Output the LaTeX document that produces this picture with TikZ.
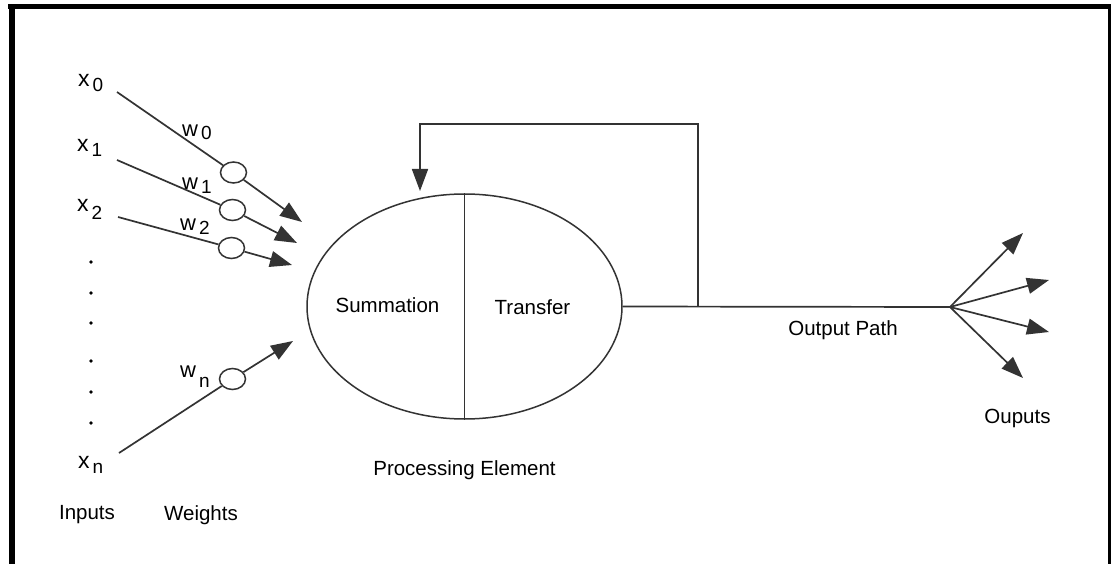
\documentclass[tikz,border=0pt]{standalone}
\usepackage{fontspec}
\setmainfont{Liberation Sans}
\usetikzlibrary{arrows.meta,shapes.geometric}
\newcommand\lowsub[2]{\hspace{3pt}\raisebox{-#1pt}{\fontsize{19}{22}\selectfont #2}}
\begin{document}
\begin{tikzpicture}[x=1pt,y=-1pt,
  wire/.style={draw=black!80,line width=1.7pt},
  arr/.style={wire,-{Triangle[length=22pt,width=16pt]}},
  wt/.style={ellipse,draw=black!80,line width=1.5pt,minimum width=26pt,minimum height=21pt,inner sep=0pt,fill=white},
  lbl/.style={font=\fontsize{20.5}{24}\selectfont,inner sep=0pt},
  var/.style={font=\fontsize{23}{24}\selectfont,inner sep=0pt,anchor=base west},
  wvar/.style={font=\fontsize{22}{24}\selectfont,inner sep=0pt,anchor=base west},
]
\useasboundingbox (0,0) rectangle (1111,564);
\fill[white] (0,0) rectangle (1111,564);

% frame
\fill[black] (8,4) rectangle (1111,9.3);
\fill[black] (9,4) rectangle (15,564);
\fill[black] (1108,4) rectangle (1110.5,564);

% processing element
\node[ellipse,draw=black!80,line width=1.5pt,minimum width=315pt,minimum height=225pt,inner sep=0pt] (pe) at (464.5,306.5) {};
\draw[wire] (pe.north) -- (pe.south);
\node[lbl] (sum) at (387.5,305) {Summation};
\node[lbl] (tr) at (532.5,307) {Transfer};
\node[lbl] (pel) at (464.5,470) {Processing Element};

% inputs
\node[var] (x0) at (78,87) {x\lowsub{5}{0}};
\node[var] (x1) at (77,152) {x\lowsub{5}{1}};
\node[var] (x2) at (77,212) {x\lowsub{7}{2}};
\node[var] (xn) at (78,468) {x\lowsub{5}{n}};
\foreach \yy [count=\i] in {262,293,323,361,392,423}
  \fill[black] (91,\yy) circle (1.8pt) coordinate (dot\i);

% weights
\node[wvar] (w0l) at (182,137) {w\lowsub{3}{0}};
\node[wvar] (w1l) at (182,190) {w\lowsub{4}{1}};
\node[wvar] (w2l) at (180,230) {w\lowsub{5}{2}};
\node[wvar] (wnl) at (180,377) {w\lowsub{10}{n}};

\node[wt] (w0) at (233.5,172.5) {};
\node[wt] (w1) at (232.5,210) {};
\node[wt] (w2) at (231.5,248) {};
\node[wt] (wn) at (232.5,379) {};

\coordinate (s0) at (117,92);
\coordinate (s1) at (117,160);
\coordinate (s2) at (118,217);
\coordinate (sn) at (119,453);
\coordinate (t0) at (302,222);
\coordinate (t1) at (297,243);
\coordinate (t2) at (292,265);
\coordinate (tn) at (293,341);

\draw[wire] (s0) -- (w0);
\draw[wire] (s1) -- (w1);
\draw[wire] (s2) -- (w2);
\draw[wire] (sn) -- (wn);
\draw[arr] (w0) -- (t0);
\draw[arr] (w1) -- (t1);
\draw[arr] (w2) -- (t2);
\draw[arr] (wn) -- (tn);

\node[lbl] (inl) at (87,515) {Inputs};
\node[lbl] (wl) at (201,515) {Weights};

% output path and feedback
\coordinate (br) at (698,307);
\coordinate (fan) at (950,307);
\coordinate (fbtip) at (420,191);
\draw[wire] (pe.east) -- (fan);
\draw[arr] (br) |- (420,124) -- (fbtip);
\node[lbl] (opl) at (843,330) {Output Path};

\coordinate (o1) at (1023,233);
\coordinate (o2) at (1049,280);
\coordinate (o3) at (1049,332);
\coordinate (o4) at (1023,378);
\foreach \o in {o1,o2,o3,o4}
  \draw[arr] (fan) -- (\o);
\node[lbl] (outl) at (1017.5,418) {Ouputs};
\end{tikzpicture}
\end{document}
